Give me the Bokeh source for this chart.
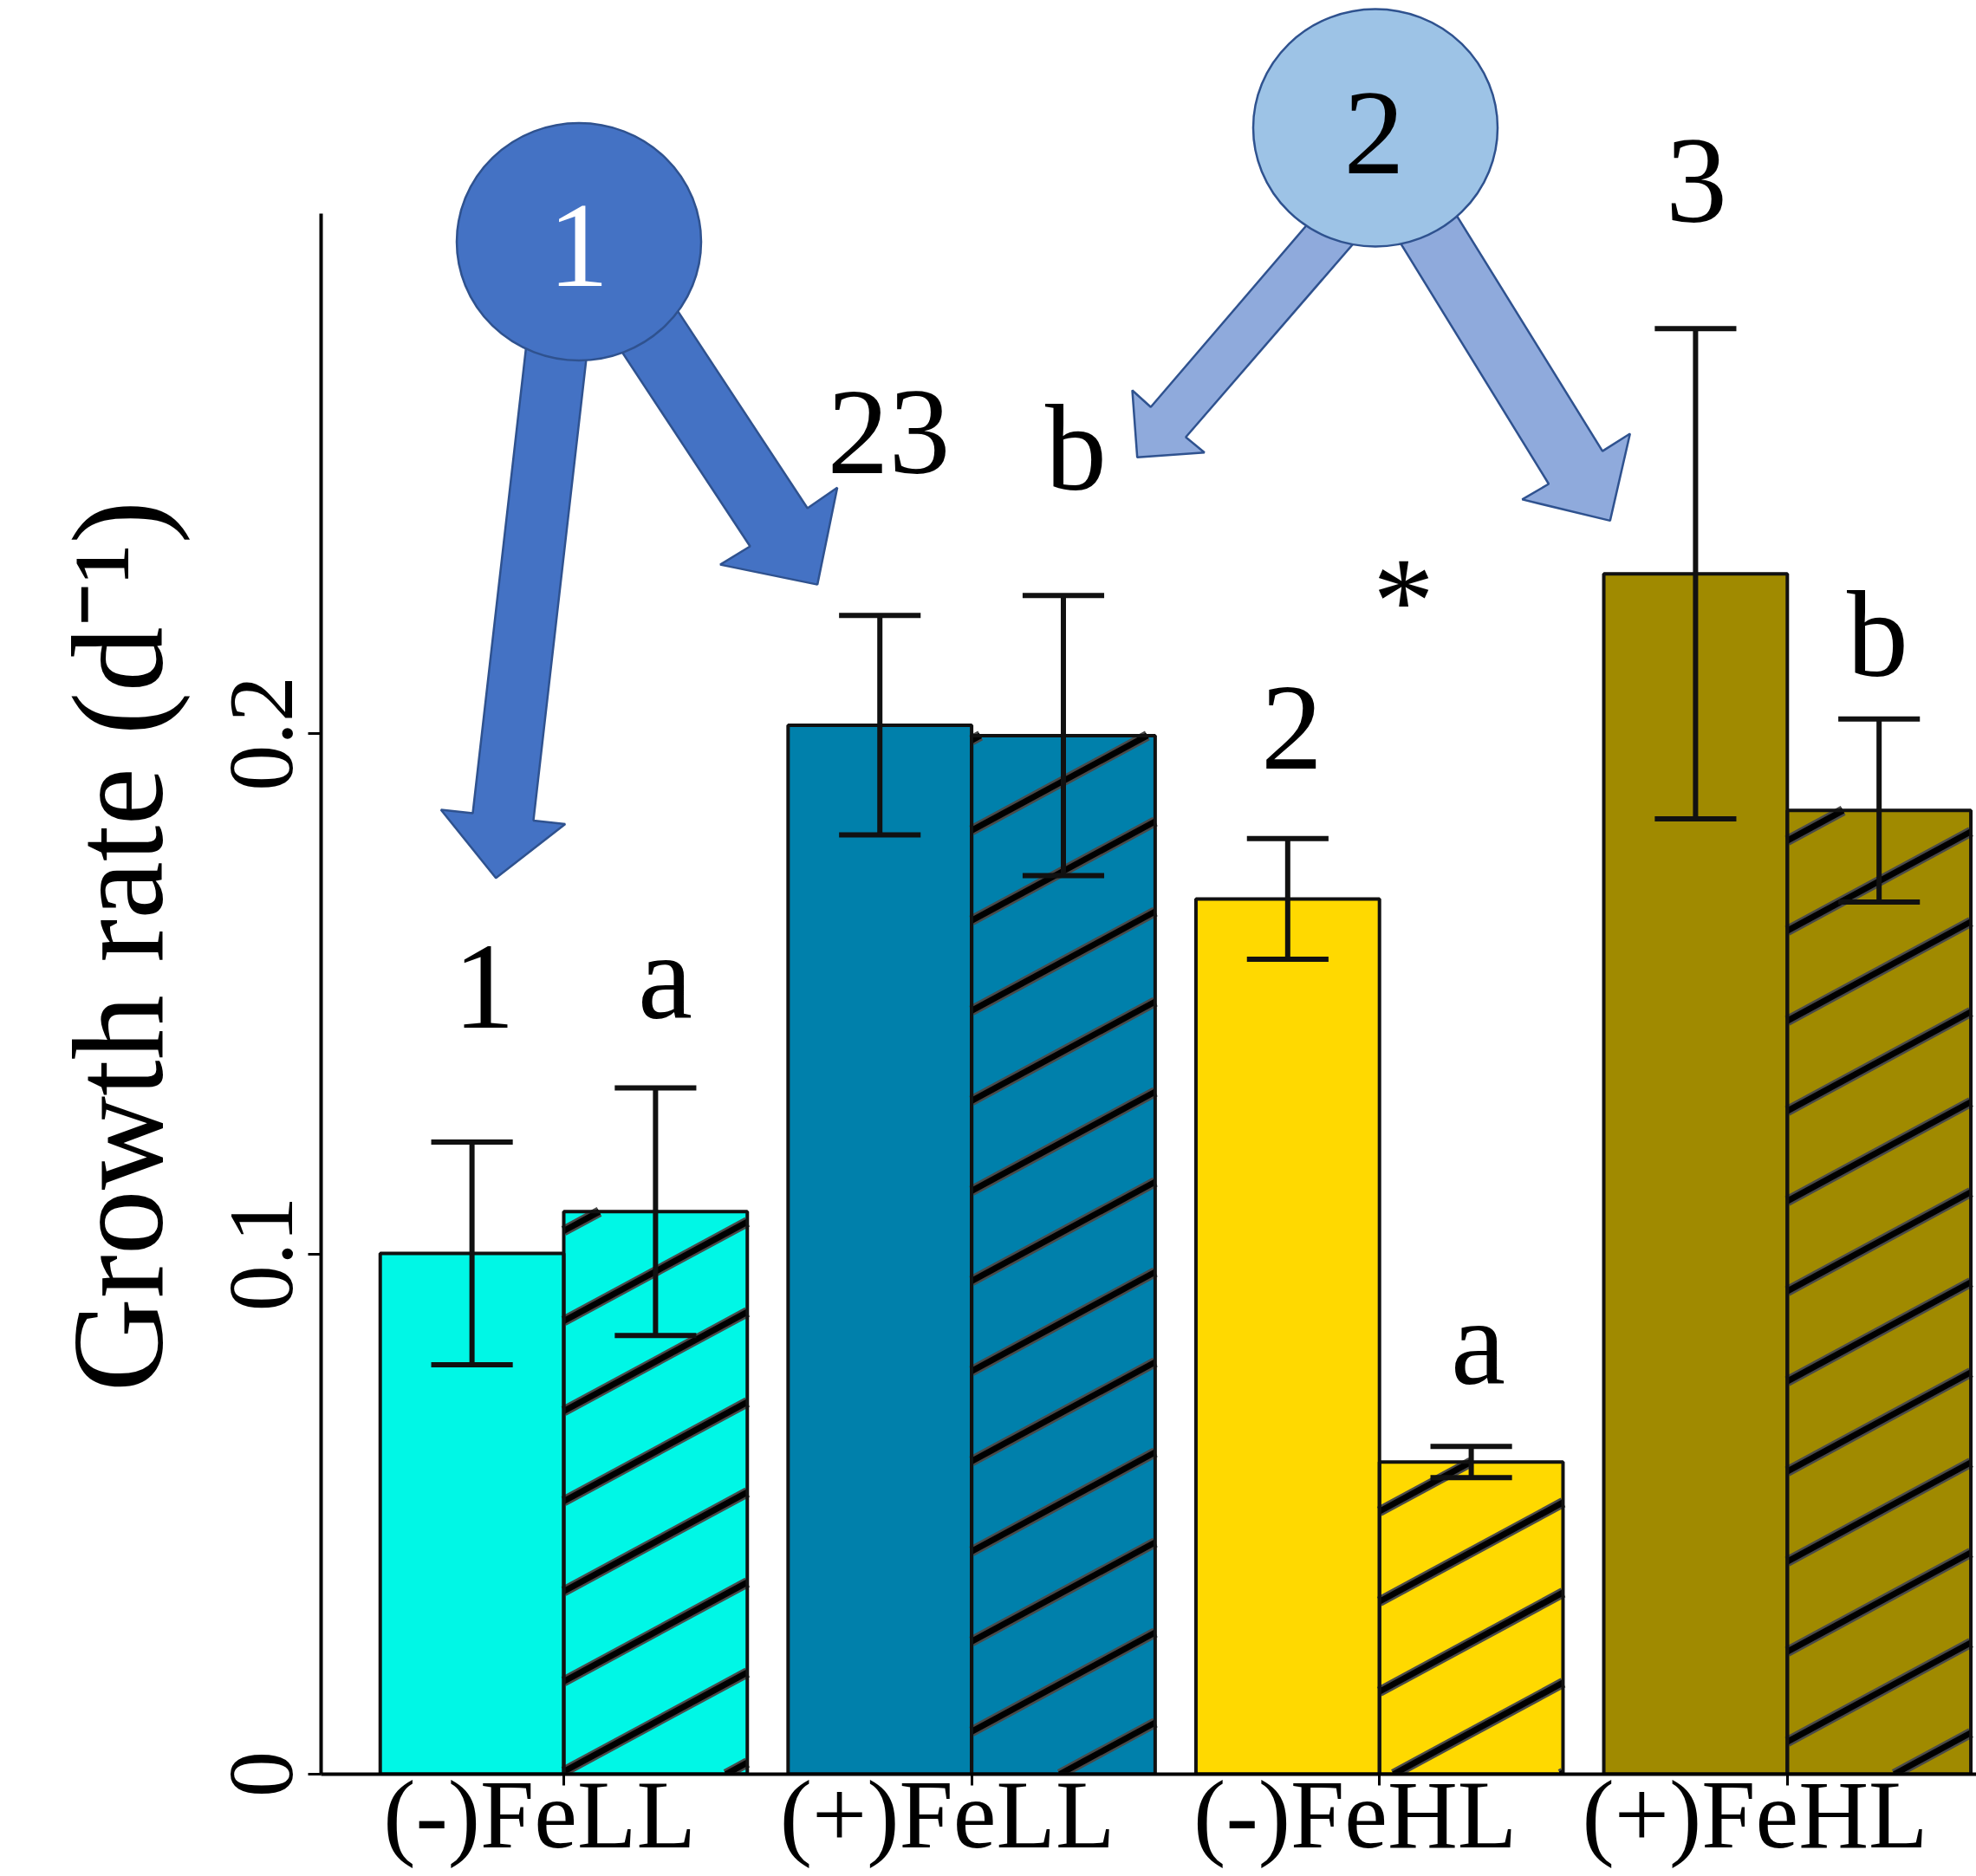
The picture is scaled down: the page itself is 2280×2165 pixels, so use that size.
import math
from bokeh.plotting import figure
from bokeh.models import Range1d, FixedTicker, Title
from bokeh.core.properties import value
from bokeh.embed import file_html
from bokeh.resources import INLINE

# ---------------- data ----------------
categories = ["(-)FeLL", "(+)FeLL", "(-)FeHL", "(+)FeHL"]
solid_values = [0.1001, 0.2016, 0.1682, 0.2307]
solid_errors = [0.0214, 0.0211, 0.0116, 0.0471]
hatched_values = [0.1081, 0.1996, 0.0600, 0.1852]
hatched_errors = [0.0238, 0.0269, 0.0030, 0.0176]
bar_colors = ["#00F7E6", "#0080AB", "#FFD900", "#A08A00"]
y_ticks = [0.0, 0.1, 0.2]
y_tick_labels = ["0", "0.1", "0.2"]
y_axis_max = 0.3
sig_texts = ["1", "a", "23", "b", "2", "*", "a", "3", "b"]
group_marks = ["1", "2"]
y_title = "Growth rate (d\u207b\u00b9)"

# ---------------- layout ----------------
FONT = "Liberation Serif"
W, H = 2280, 2165
PX0_X, PX_X = 650.0, 470.6      # page px of category 0, px per category
PX0_Y, PX_Y = 2047.0, 6005.0    # page px of y = 0, px per unit
FRAME_LEFT = 370
SIG_SIZE, MARK_SIZE = 142, 140
BASE_FIX = 0.34                 # renderer places alphabetic baseline ~0.34 em low
LABEL_PAD = "\u2002"            # en space: shifts the centred category labels left


def fx(px):
    return (px - PX0_X) / PX_X


def fy(py):
    return (PX0_Y - py) / PX_Y


p = figure(width=W, height=H, output_backend="svg", toolbar_location=None,
           x_range=Range1d(fx(FRAME_LEFT), fx(W)),
           y_range=Range1d(0, fy(0)),
           min_border_left=FRAME_LEFT, min_border_right=0,
           min_border_top=0, min_border_bottom=H - int(PX0_Y))
p.outline_line_color = None
p.xgrid.visible = False
p.ygrid.visible = False
p.background_fill_color = "white"
p.border_fill_color = "white"

idx = list(range(len(categories)))
BW = 0.45
xs_solid = [i - BW / 2 for i in idx]
xs_hatch = [i + BW / 2 for i in idx]

# bar fills
p.vbar(x=xs_solid, top=solid_values, bottom=0, width=BW,
       fill_color=bar_colors, line_color=None)
p.vbar(x=xs_hatch, top=hatched_values, bottom=0, width=BW,
       fill_color=bar_colors, line_color=None)

# hatch lines (one global pattern, rising to the right)
S_PX, D_PX, C0 = 0.54, 104.0, 3.0
m = S_PX * PX_X / PX_Y
hx0, hy0, hx1, hy1 = [], [], [], []
for xc, top in zip(xs_hatch, hatched_values):
    x0, x1 = xc - BW / 2, xc + BW / 2
    base = PX0_Y + S_PX * PX0_X
    b_min, b_max = -m * x1, top - m * x0
    c_min = base - PX_Y * b_max
    c_max = base - PX_Y * b_min
    k0 = math.floor((c_min - C0) / D_PX) - 1
    k1 = math.ceil((c_max - C0) / D_PX) + 1
    for k in range(k0, k1 + 1):
        c = C0 + k * D_PX
        b = (base - c) / PX_Y
        xl = max(x0, (0 - b) / m)
        xr = min(x1, (top - b) / m)
        if xr > xl:
            hx0.append(xl); hy0.append(b + m * xl)
            hx1.append(xr); hy1.append(b + m * xr)
p.segment(x0=hx0, y0=hy0, x1=hx1, y1=hy1, line_color="#4a4a4a", line_width=12)
p.segment(x0=hx0, y0=hy0, x1=hx1, y1=hy1, line_color="#000000", line_width=7)

# bar outlines
p.vbar(x=xs_solid + xs_hatch, top=solid_values + hatched_values, bottom=0,
       width=BW, fill_color=None, line_color="#111111", line_width=4)

# error bars
ex = xs_solid + xs_hatch
ev = solid_values + hatched_values
ee = solid_errors + hatched_errors
CAP = 0.1
lo = [v - e for v, e in zip(ev, ee)]
hi = [v + e for v, e in zip(ev, ee)]
p.segment(x0=ex, y0=lo, x1=ex, y1=hi, line_color="#111111", line_width=6)
p.segment(x0=[x - CAP for x in ex], y0=hi, x1=[x + CAP for x in ex], y1=hi,
          line_color="#111111", line_width=6)
p.segment(x0=[x - CAP for x in ex], y0=lo, x1=[x + CAP for x in ex], y1=lo,
          line_color="#111111", line_width=6)

# significance letters (page px: centre x, baseline y)
sig_px = [(558, 1187), (767, 1175), (1025, 547), (1241, 565), (1490, 888),
          (1619, 741), (1705, 1597), (1957, 257), (2166, 780)]
p.text(x=[fx(a) for a, _ in sig_px],
       y=[fy(b - BASE_FIX * SIG_SIZE) for _, b in sig_px], text=sig_texts,
       text_font=value(FONT), text_font_size=f"{SIG_SIZE}px", text_align="center",
       text_baseline="alphabetic", text_color="black")

# arrows (page px polygons)
arrows1 = [
    [(618, 300), (545, 938), (508.3, 934), (571.7, 1012.8), (651.7, 950.5), (615, 946.4), (689, 300)],
    [(647.6, 300), (865, 630), (830.5, 651.1), (942.7, 674.1), (965.6, 562.3), (931.2, 586), (743.1, 300)],
]
arrows2 = [
    [(1583.8, 170), (1327.3, 469.3), (1306, 450), (1311.7, 527.3), (1389.3, 521.7), (1367.7, 504), (1656.9, 170)],
    [(1547.7, 170), (1786.5, 558), (1755.9, 575.9), (1857.3, 600.4), (1880.3, 500), (1848.5, 520.1), (1631.8, 170)],
]
for polys, col in ((arrows1, "#4472C4"), (arrows2, "#8FAADC")):
    p.patches(xs=[[fx(a) for a, _ in poly] for poly in polys],
              ys=[[fy(b) for _, b in poly] for poly in polys],
              fill_color=col, line_color="#2F528F", line_width=2.5)

# circles
circ_px = [(667.5, 278.5), (1586.5, 147)]
p.ellipse(x=[fx(a) for a, _ in circ_px], y=[fy(b) for _, b in circ_px],
          width=[282 / PX_X] * 2, height=[274 / PX_Y] * 2,
          fill_color=["#4472C4", "#9DC3E6"], line_color="#2F528F", line_width=2.5)
mark_px = [(667, 331), (1585, 201)]
p.text(x=[fx(a) for a, _ in mark_px],
       y=[fy(b - BASE_FIX * MARK_SIZE) for _, b in mark_px], text=group_marks,
       text_font=value(FONT), text_font_size=f"{MARK_SIZE}px", text_align="center",
       text_baseline="alphabetic", text_color=["white", "black"])

# x axis (category labels are the axis tick labels)
xa = p.xaxis[0]
xa.ticker = FixedTicker(ticks=idx)
xa.major_label_overrides = {i: c + LABEL_PAD for i, c in zip(idx, categories)}
xa.major_label_text_font = FONT
xa.major_label_text_font_size = "112px"
xa.major_label_text_color = "black"
xa.major_label_standoff = -29
xa.major_tick_out = 13
xa.major_tick_in = 0
xa.minor_tick_out = 0
xa.minor_tick_in = 0
xa.axis_line_width = 4
xa.major_tick_line_width = 3
xa.axis_line_color = "black"

# y axis
ya = p.yaxis[0]
ya.ticker = FixedTicker(ticks=y_ticks)
ya.major_label_overrides = {t: l for t, l in zip(y_ticks, y_tick_labels)}
ya.bounds = (0, y_axis_max)
ya.major_label_orientation = "parallel"
ya.major_label_text_font = FONT
ya.major_label_text_font_size = "106px"
ya.major_label_text_color = "black"
ya.major_label_standoff = 19
ya.major_tick_out = 15
ya.major_tick_in = 0
ya.minor_tick_out = 0
ya.minor_tick_in = 0
ya.axis_line_width = 4
ya.major_tick_line_width = 3

# y title in the left panel, starting where the figure's title starts
p.add_layout(Title(text=y_title, align="left", offset=int(PX0_Y - 1606),
                   vertical_align="bottom", standoff=90,
                   text_font=FONT, text_font_size="150px", text_font_style="normal",
                   text_color="black"), "left")

open("out.html", "w").write(file_html(p, INLINE))
